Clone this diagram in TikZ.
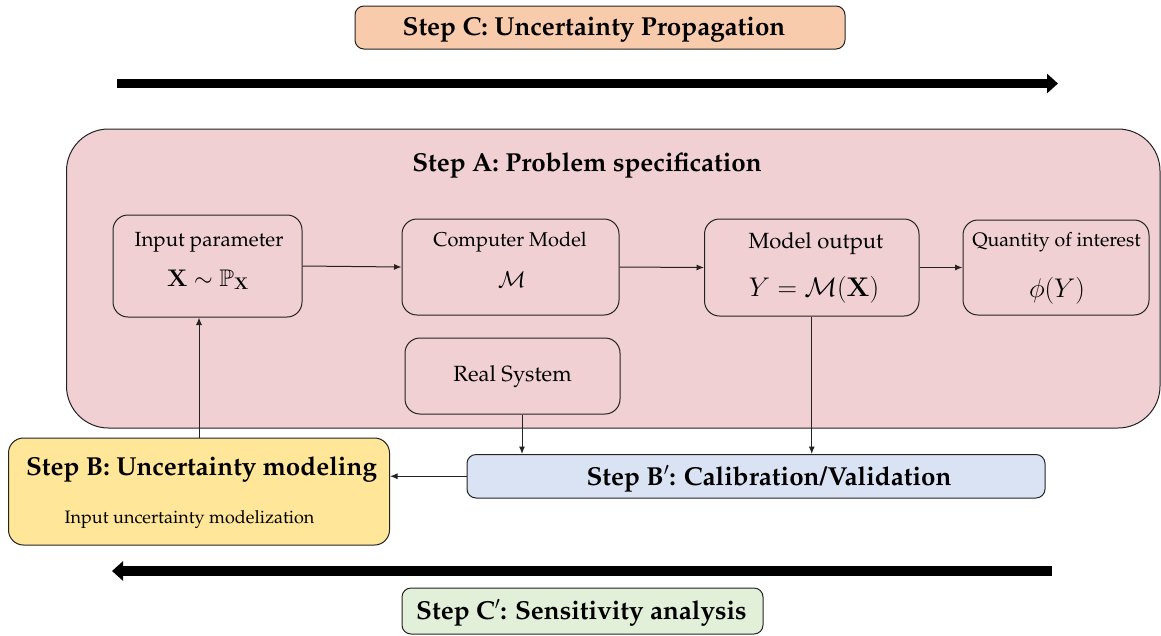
\RequirePackage{fix-cm}
\documentclass[tikz,border=0pt]{standalone}
\usepackage[T1]{fontenc}
\renewcommand{\rmdefault}{ppl}
\usepackage{amssymb}
\usetikzlibrary{arrows.meta}
\definecolor{peach}{RGB}{248,203,173}
\definecolor{pinkbg}{RGB}{240,208,211}
\definecolor{yellowbg}{RGB}{255,230,153}
\definecolor{bluebg}{RGB}{218,227,243}
\definecolor{greenbg}{RGB}{226,240,217}
\definecolor{edge}{RGB}{35,35,35}
\tikzset{
  boxshape/.style={draw=edge, line width=1pt, rectangle, inner sep=0pt},
  innerbox/.style={boxshape, rounded corners=15pt},
  stepbox/.style={boxshape, rounded corners=9pt},
  titletext/.style={anchor=base, inner sep=0pt, font=\fontsize{26}{30}\selectfont\bfseries},
  labeltext/.style={anchor=base, inner sep=0pt},
  conn/.style={draw=edge, line width=1pt, -{Latex[length=7.5pt,width=6pt]}},
  bigarrow/.style={draw=black, line width=9.5pt, -{Triangle[length=11pt,width=19pt]}},
}
\newcommand{\fsz}[1]{\fontsize{#1}{#1}\selectfont}
\begin{document}
\begin{tikzpicture}[x=1pt,y=-1pt]
\useasboundingbox (0,0) rectangle (1161,635);
% Step C box
\node[stepbox, fill=peach, minimum width=490pt, minimum height=43pt] (stepC) at (600,27.5) {};
\node[titletext] (stepCt) at (594,35) {Step C: Uncertainty Propagation};
% top big arrow
\coordinate (topA) at (117,83.5);
\coordinate (topB) at (1058,83.5);
\draw[bigarrow] (topA) -- (topB);
% Pink container
\node[boxshape, rounded corners=42pt, fill=pinkbg, minimum width=1093.5pt, minimum height=299pt] (stepA) at (613.25,278.5) {};
\node[titletext] (stepAt) at (587,171) {Step A: Problem specification};
% inner boxes
\node[innerbox, minimum width=189pt, minimum height=102pt] (input) at (207.5,266) {};
\node[labeltext, font=\fsz{20.5}] (inputt) at (209,246) {Input parameter};
\node[labeltext, font=\fsz{24}] (inputm) at (208,286) {$\mathbf{X}\sim\mathbb{P}_{\mathbf{X}}$};

\node[innerbox, minimum width=217pt, minimum height=96pt] (cm) at (510.5,267) {};
\node[labeltext, font=\fsz{20}] (cmt) at (510,246) {Computer Model};
\node[labeltext, font=\fsz{23}] (cmm) at (512,287) {$\mathcal{M}$};

\node[innerbox, minimum width=214.5pt, minimum height=97pt] (mo) at (811.75,267.5) {};
\node[labeltext, font=\fsz{22}] (mot) at (816,248) {Model output};
\node[labeltext, font=\fsz{27}] (mom) at (814,296) {$Y=\mathcal{M}(\mathbf{X})$};

\node[innerbox, minimum width=186pt, minimum height=95pt] (qoi) at (1056,267.5) {};
\node[labeltext, font=\fsz{19.5}] (qoit) at (1056.5,246) {Quantity of interest};
\node[labeltext, font=\fsz{27}] (qoim) at (1057,297) {$\phi(Y)$};

\node[innerbox, minimum width=215pt, minimum height=76pt] (real) at (512.5,376) {};
\node[labeltext, font=\fsz{22}] (realt) at (512.5,381) {Real System};
% Step B
\node[boxshape, rounded corners=15pt, fill=yellowbg, minimum width=381pt, minimum height=107pt] (stepB) at (199,491.5) {};
\node[titletext] (stepBt) at (201.5,475) {Step B: Uncertainty modeling};
\node[labeltext, font=\fsz{18}] (stepBs) at (189.5,523) {Input uncertainty modelization};
% Step B'
\node[stepbox, fill=bluebg, minimum width=578pt, minimum height=43.5pt] (stepBp) at (756,476.25) {};
\node[titletext] (stepBpt) at (769,485) {Step B$'$: Calibration/Validation};
% bottom big arrow
\coordinate (botA) at (1052,571);
\coordinate (botB) at (112,571);
\draw[bigarrow] (botA) -- (botB);
% Step C'
\node[stepbox, fill=greenbg, minimum width=361pt, minimum height=46pt] (stepCp) at (582.5,611) {};
\node[titletext] (stepCpt) at (581.5,619) {Step C$'$: Sensitivity analysis};
% connectors
\draw[conn] (input.east) -- (cm.west);
\draw[conn] (cm.east) -- (mo.west);
\draw[conn] (mo.east) -- (qoi.west);
\draw[conn] (mo.south) -- (mo.south |- stepBp.north);
\draw[conn] ([xshift=9.5pt]real.south) -- ([xshift=9.5pt]real.south |- stepBp.north);
\draw[conn] (stepBp.west) -- (stepBp.west -| stepB.east);
\draw[conn] (stepB.north) -- (stepB.north |- input.south);
\end{tikzpicture}
\end{document}
